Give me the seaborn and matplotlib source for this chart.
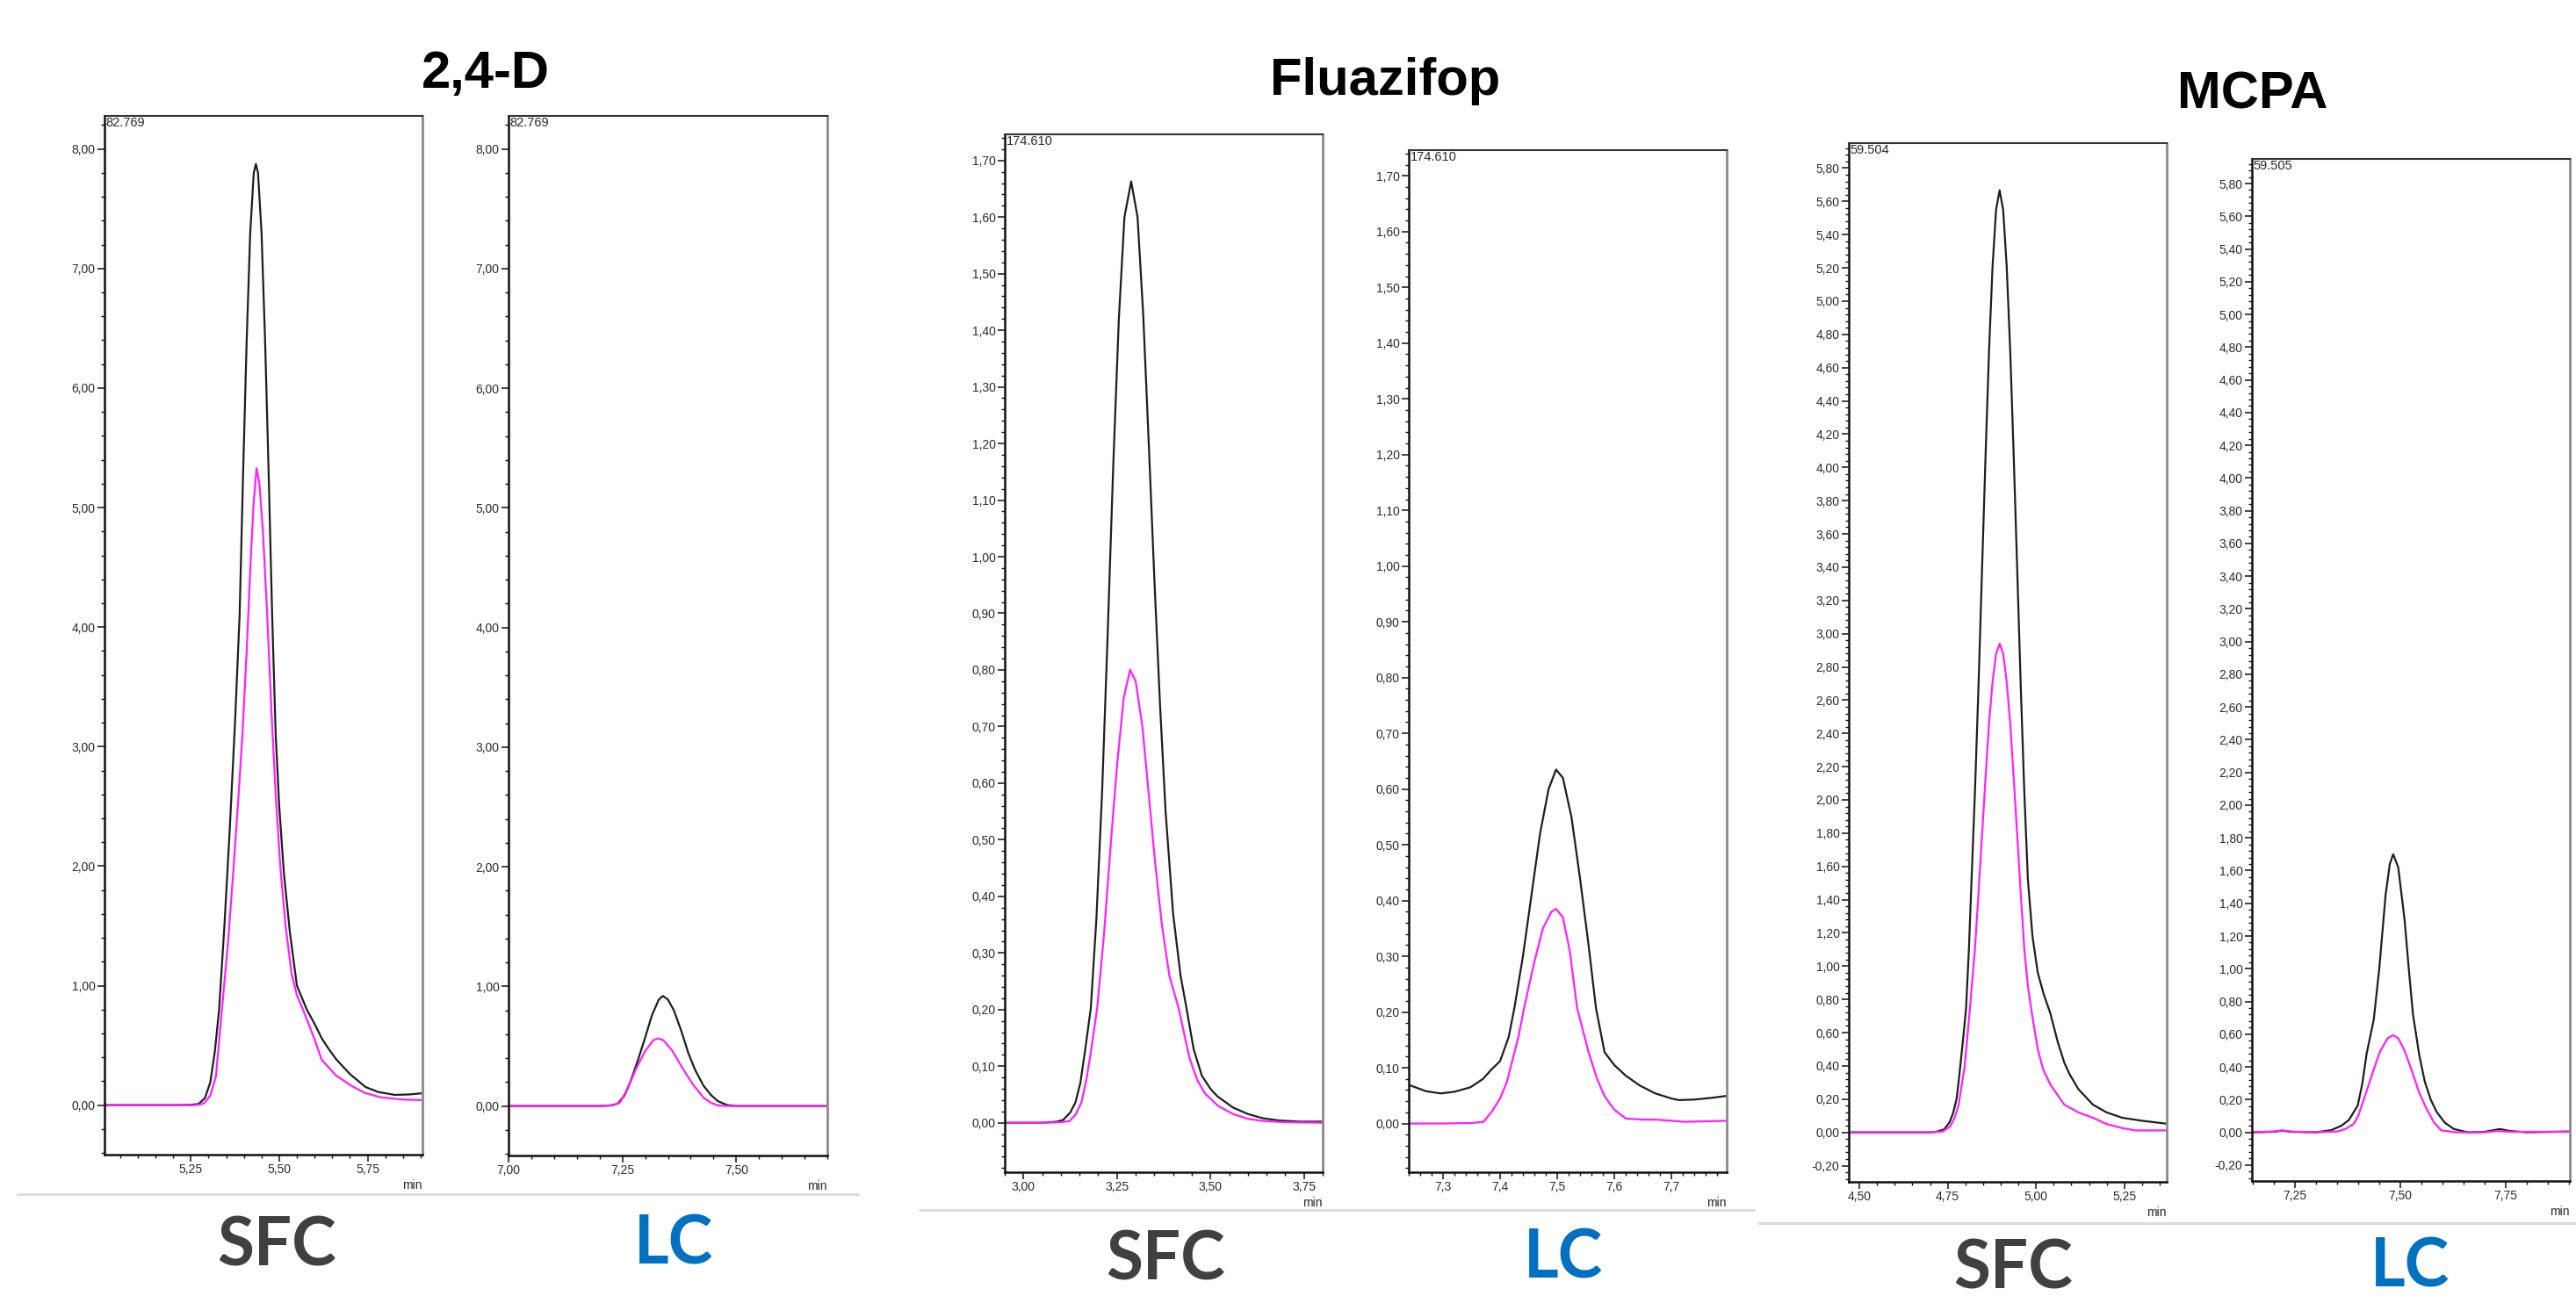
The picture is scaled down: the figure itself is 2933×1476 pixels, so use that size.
import numpy as np
import pandas as pd
import matplotlib
matplotlib.use("Agg")
import matplotlib.pyplot as plt
from matplotlib.lines import Line2D
from matplotlib.ticker import MultipleLocator, FuncFormatter
import seaborn as sns

# ---------------- data ----------------
compounds = ["2,4-D", "Fluazifop", "MCPA"]
techniques = ["SFC", "LC", "SFC", "LC", "SFC", "LC"]
scale_labels = ["82.769", "82.769", "174.610", "174.610", "59.504", "59.505"]
y_tops = [8.2769, 8.2769, 1.7461, 1.7461, 5.9504, 5.9505]
x_ranges = [(5.006, 5.905), (7.0, 7.70), (2.95, 3.80), (7.24, 7.797), (4.47, 5.37), (7.148, 7.902)]

# 2,4-D  SFC
d24_sfc_black_t = [5.000, 5.100, 5.200, 5.250, 5.272, 5.290, 5.305, 5.318, 5.330, 5.345,
                   5.360, 5.375, 5.388, 5.398, 5.408, 5.418, 5.428, 5.434, 5.440, 5.450,
                   5.460, 5.470, 5.480, 5.490, 5.500, 5.513, 5.530, 5.550, 5.578, 5.600,
                   5.620, 5.640, 5.661, 5.700, 5.744, 5.780, 5.827, 5.870, 5.905]
d24_sfc_black_y = [0, 0, 0, 0.003, 0.01, 0.06, 0.19, 0.45, 0.8, 1.5,
                   2.3, 3.2, 4.1, 5.3, 6.4, 7.3, 7.8, 7.875, 7.8, 7.3,
                   6.4, 5.3, 4.1, 3.1, 2.5, 1.95, 1.45, 1.0, 0.8, 0.68,
                   0.56, 0.47, 0.384, 0.26, 0.152, 0.11, 0.086, 0.09, 0.10]
d24_sfc_mag_t = [5.000, 5.200, 5.260, 5.275, 5.288, 5.305, 5.321, 5.338, 5.355, 5.370,
                 5.383, 5.396, 5.408, 5.420, 5.428, 5.436, 5.444, 5.454, 5.466, 5.478,
                 5.490, 5.503, 5.518, 5.535, 5.550, 5.570, 5.600, 5.620, 5.660, 5.703,
                 5.740, 5.786, 5.850, 5.905]
d24_sfc_mag_y = [0, 0, 0, 0.005, 0.017, 0.08, 0.24, 0.8, 1.35, 1.95,
                 2.5, 3.1, 3.8, 4.6, 5.05, 5.33, 5.2, 4.8, 4.1, 3.3,
                 2.6, 2.0, 1.5, 1.1, 0.92, 0.78, 0.55, 0.38, 0.25, 0.164,
                 0.105, 0.066, 0.047, 0.042]

# 2,4-D  LC
d24_lc_black_t = [7.00, 7.10, 7.20, 7.225, 7.240, 7.255, 7.267, 7.283, 7.299, 7.315,
                  7.330, 7.339, 7.350, 7.363, 7.380, 7.395, 7.410, 7.428, 7.445, 7.460,
                  7.480, 7.500, 7.600, 7.700]
d24_lc_black_y = [0, 0, 0, 0.005, 0.02, 0.09, 0.197, 0.37, 0.56, 0.76,
                  0.89, 0.92, 0.89, 0.80, 0.62, 0.44, 0.30, 0.17, 0.09, 0.04,
                  0.008, 0, 0, 0]
d24_lc_mag_t = [7.00, 7.10, 7.20, 7.228, 7.245, 7.262, 7.280, 7.300, 7.318, 7.329,
                7.340, 7.360, 7.383, 7.405, 7.428, 7.445, 7.460, 7.480, 7.600, 7.700]
d24_lc_mag_y = [0, 0, 0, 0.005, 0.03, 0.15, 0.31, 0.46, 0.55, 0.565,
                0.55, 0.46, 0.31, 0.18, 0.07, 0.025, 0.005, 0, 0, 0]

# Fluazifop  SFC
flu_sfc_black_t = [2.95, 3.05, 3.09, 3.106, 3.125, 3.139, 3.152, 3.164, 3.18, 3.195,
                   3.21, 3.225, 3.24, 3.255, 3.27, 3.288, 3.305, 3.32, 3.335, 3.35,
                   3.365, 3.38, 3.40, 3.42, 3.436, 3.455, 3.477, 3.50, 3.518, 3.56,
                   3.60, 3.64, 3.684, 3.74, 3.80]
flu_sfc_black_y = [0, 0, 0.002, 0.005, 0.018, 0.036, 0.07, 0.124, 0.202, 0.36,
                   0.58, 0.86, 1.16, 1.42, 1.60, 1.663, 1.60, 1.43, 1.2, 0.96,
                   0.74, 0.55, 0.37, 0.26, 0.202, 0.13, 0.083, 0.06, 0.047, 0.027,
                   0.0155, 0.008, 0.004, 0.002, 0.002]
flu_sfc_mag_t = [2.95, 3.05, 3.10, 3.123, 3.14, 3.155, 3.168, 3.18, 3.197, 3.215,
                 3.232, 3.25, 3.268, 3.285, 3.30, 3.318, 3.335, 3.352, 3.37, 3.39,
                 3.415, 3.444, 3.465, 3.485, 3.52, 3.56, 3.60, 3.642, 3.70, 3.80]
flu_sfc_mag_y = [0, 0, 0.001, 0.003, 0.015, 0.036, 0.075, 0.124, 0.202, 0.33,
                 0.48, 0.63, 0.75, 0.80, 0.78, 0.70, 0.58, 0.46, 0.35, 0.26,
                 0.202, 0.114, 0.075, 0.052, 0.03, 0.0155, 0.007, 0.003, 0.001, 0]

# Fluazifop  LC
flu_lc_black_t = [7.241, 7.27, 7.296, 7.32, 7.348, 7.37, 7.384, 7.40, 7.415, 7.425,
                  7.44, 7.455, 7.47, 7.485, 7.498, 7.51, 7.525, 7.54, 7.555, 7.568,
                  7.583, 7.60, 7.62, 7.645, 7.672, 7.70, 7.713, 7.74, 7.77, 7.80]
flu_lc_black_y = [0.069, 0.058, 0.054, 0.057, 0.065, 0.08, 0.096, 0.112, 0.155, 0.207,
                  0.30, 0.41, 0.52, 0.60, 0.635, 0.62, 0.55, 0.44, 0.32, 0.207,
                  0.128, 0.105, 0.086, 0.068, 0.054, 0.045, 0.042, 0.043, 0.046, 0.05]
flu_lc_mag_t = [7.241, 7.30, 7.35, 7.371, 7.386, 7.40, 7.412, 7.432, 7.442, 7.46,
                7.475, 7.49, 7.498, 7.51, 7.522, 7.535, 7.555, 7.57, 7.583, 7.60,
                7.62, 7.65, 7.672, 7.70, 7.723, 7.76, 7.80]
flu_lc_mag_y = [0, 0, 0.001, 0.003, 0.022, 0.045, 0.075, 0.155, 0.207, 0.29,
                0.35, 0.38, 0.385, 0.37, 0.31, 0.207, 0.128, 0.08, 0.049, 0.025,
                0.009, 0.007, 0.007, 0.005, 0.003, 0.004, 0.005]

# MCPA  SFC
mcpa_sfc_black_t = [4.47, 4.60, 4.70, 4.72, 4.74, 4.755, 4.765, 4.775, 4.781, 4.794,
                    4.802, 4.81, 4.817, 4.827, 4.837, 4.847, 4.857, 4.867, 4.877, 4.887,
                    4.897, 4.907, 4.917, 4.927, 4.937, 4.947, 4.957, 4.967, 4.977, 4.99,
                    5.005, 5.022, 5.04, 5.062, 5.08, 5.095, 5.12, 5.161, 5.20, 5.244,
                    5.30, 5.367]
mcpa_sfc_black_y = [0, 0, 0, 0.005, 0.018, 0.06, 0.114, 0.2, 0.305, 0.57,
                    0.747, 1.1, 1.49, 2.04, 2.67, 3.37, 4.06, 4.70, 5.21, 5.55,
                    5.667, 5.55, 5.21, 4.70, 4.06, 3.37, 2.67, 2.04, 1.52, 1.18,
                    0.96, 0.83, 0.72, 0.54, 0.42, 0.35, 0.26, 0.167, 0.12, 0.088,
                    0.07, 0.053]
mcpa_sfc_mag_t = [4.47, 4.60, 4.70, 4.735, 4.757, 4.77, 4.781, 4.798, 4.813, 4.827,
                  4.837, 4.847, 4.857, 4.867, 4.877, 4.887, 4.897, 4.907, 4.917, 4.927,
                  4.937, 4.947, 4.957, 4.967, 4.977, 4.988, 5.005, 5.02, 5.04, 5.08,
                  5.12, 5.161, 5.20, 5.244, 5.28, 5.367]
mcpa_sfc_mag_y = [0, 0, 0, 0.005, 0.035, 0.09, 0.167, 0.396, 0.747, 1.10,
                  1.43, 1.78, 2.13, 2.46, 2.71, 2.88, 2.94, 2.88, 2.71, 2.46,
                  2.13, 1.78, 1.43, 1.10, 0.88, 0.72, 0.50, 0.38, 0.29, 0.167,
                  0.12, 0.088, 0.05, 0.026, 0.012, 0.012]

# MCPA  LC
mcpa_lc_black_t = [7.148, 7.20, 7.22, 7.24, 7.30, 7.336, 7.36, 7.378, 7.399, 7.41,
                   7.42, 7.437, 7.45, 7.465, 7.475, 7.483, 7.495, 7.51, 7.52, 7.53,
                   7.545, 7.558, 7.572, 7.586, 7.605, 7.627, 7.66, 7.70, 7.736, 7.76,
                   7.80, 7.902]
mcpa_lc_black_y = [0, 0.003, 0.01, 0.003, 0, 0.013, 0.04, 0.075, 0.164, 0.3,
                   0.48, 0.69, 1.0, 1.45, 1.64, 1.70, 1.62, 1.3, 1.0, 0.72,
                   0.47, 0.31, 0.2, 0.125, 0.06, 0.02, 0.0, 0.003, 0.02, 0.008,
                   0, 0.005]
mcpa_lc_mag_t = [7.148, 7.20, 7.22, 7.24, 7.30, 7.35, 7.37, 7.389, 7.40, 7.417,
                 7.435, 7.452, 7.47, 7.483, 7.495, 7.51, 7.528, 7.545, 7.563, 7.58,
                 7.597, 7.632, 7.70, 7.73, 7.76, 7.902]
mcpa_lc_mag_y = [0, 0.005, 0.012, 0.005, 0, 0.005, 0.02, 0.05, 0.1, 0.228,
                 0.37, 0.495, 0.575, 0.594, 0.575, 0.5, 0.37, 0.24, 0.139, 0.06,
                 0.012, 0, 0, 0.008, 0.003, 0.003]

y_major_steps = [1.0, 1.0, 0.1, 0.1, 0.2, 0.2]
y_minor_steps = [0.2, 0.2, 0.02, 0.02, 0.04, 0.04]
x_major_steps = [0.25, 0.25, 0.25, 0.1, 0.25, 0.25]
x_minor_steps = [0.05, 0.05, 0.05, 0.02, 0.05, 0.05]
x_decimals = [2, 2, 2, 1, 2, 2]

traces = [
    (d24_sfc_black_t, d24_sfc_black_y, d24_sfc_mag_t, d24_sfc_mag_y),
    (d24_lc_black_t, d24_lc_black_y, d24_lc_mag_t, d24_lc_mag_y),
    (flu_sfc_black_t, flu_sfc_black_y, flu_sfc_mag_t, flu_sfc_mag_y),
    (flu_lc_black_t, flu_lc_black_y, flu_lc_mag_t, flu_lc_mag_y),
    (mcpa_sfc_black_t, mcpa_sfc_black_y, mcpa_sfc_mag_t, mcpa_sfc_mag_y),
    (mcpa_lc_black_t, mcpa_lc_black_y, mcpa_lc_mag_t, mcpa_lc_mag_y),
]

# ---------------- layout (pixels in a 2933 x 1476 canvas) ----------------
W, H = 2933, 1476
panel_px = [(119, 481, 132, 1315), (579, 942, 132, 1316), (1144, 1506, 153, 1335),
            (1604, 1966, 171, 1335), (2105, 2467, 163, 1346), (2564, 2926, 181, 1345)]
tech_pos = [(315, 1420), (767, 1418), (1327, 1436), (1780, 1433), (2292, 1446), (2744, 1444)]
title_pos = [(553, 100), (1577, 108), (2565, 124)]
sep_lines = [(20, 977, 1360), (1047, 1997, 1378), (2002, 2933, 1393)]

sns.set_style("white")
plt.rcParams["font.family"] = ["Liberation Sans", "DejaVu Sans"]

fig = plt.figure(figsize=(W / 100, H / 100), dpi=100)
fig.patch.set_facecolor("white")

BLACK = "#1e1e1e"
MAGENTA = "#ff1fff"
TXT = "#2a2a2a"


def comma_fmt(nd):
    def f(v, pos):
        v = round(v, nd) + 0.0
        return f"{v:.{nd}f}".replace(".", ",")
    return FuncFormatter(f)


for i in range(6):
    x0, x1, y0, y1 = panel_px[i]
    ax = fig.add_axes([x0 / W, 1 - y1 / H, (x1 - x0) / W, (y1 - y0) / H])
    bt, by, mt, my = traces[i]
    df = pd.concat([
        pd.DataFrame({"time": bt, "signal": by, "trace": "total"}),
        pd.DataFrame({"time": mt, "signal": my, "trace": "ion"}),
    ], ignore_index=True)
    sns.lineplot(data=df, x="time", y="signal", hue="trace",
                 palette={"total": BLACK, "ion": MAGENTA}, hue_order=["total", "ion"],
                 estimator=None, sort=False, legend=False, linewidth=1.6, ax=ax)

    top = y_tops[i]
    ax.set_ylim(-0.05 * top, top)
    ax.set_xlim(*x_ranges[i])
    ax.set_xlabel("")
    ax.set_ylabel("")

    ax.yaxis.set_major_locator(MultipleLocator(y_major_steps[i]))
    ax.yaxis.set_minor_locator(MultipleLocator(y_minor_steps[i]))
    ax.xaxis.set_major_locator(MultipleLocator(x_major_steps[i]))
    ax.xaxis.set_minor_locator(MultipleLocator(x_minor_steps[i]))
    ax.yaxis.set_major_formatter(comma_fmt(2))
    ax.xaxis.set_major_formatter(comma_fmt(x_decimals[i]))

    ax.tick_params(axis="both", which="major", direction="out", length=6, width=1.1,
                   labelsize=10, colors="#111", labelcolor=TXT, pad=1.5)
    ax.tick_params(axis="both", which="minor", direction="out", length=3.2, width=1.0,
                   colors="#111")
    ax.tick_params(axis="both", left=True, bottom=True, which="both")

    for side in ["left", "bottom"]:
        ax.spines[side].set_color("#111")
        ax.spines[side].set_linewidth(1.8)
    ax.spines["top"].set_color("#333")
    ax.spines["top"].set_linewidth(1.5)
    ax.spines["right"].set_color("#8a8a8a")
    ax.spines["right"].set_linewidth(2.0)
    for s in ax.spines.values():
        s.set_visible(True)

    ax.text(0.004, 0.999, scale_labels[i], transform=ax.transAxes, ha="left", va="top",
            fontsize=10.5, color=TXT)
    hpx = y1 - y0
    ax.text(1.0, -35 / hpx, "min", transform=ax.transAxes, ha="right", va="center",
            fontsize=10, color=TXT)

    cx, cy = tech_pos[i]
    col = "#404040" if techniques[i] == "SFC" else "#0070c0"
    fig.text(cx / W, 1 - cy / H, techniques[i], ha="center", va="center",
             fontsize=55, color=col, family=["Lato", "DejaVu Sans"], fontweight="bold")

for name, (tx, ty) in zip(compounds, title_pos):
    fig.text(tx / W, 1 - ty / H, name, ha="center", va="baseline", fontsize=43,
             fontweight="bold", color="#000000")

for (lx0, lx1, ly) in sep_lines:
    fig.add_artist(Line2D([lx0 / W, lx1 / W], [1 - ly / H, 1 - ly / H],
                          transform=fig.transFigure, color="#dcdcdc", linewidth=2.2))

fig.savefig("out.png", dpi=100, facecolor="white")
